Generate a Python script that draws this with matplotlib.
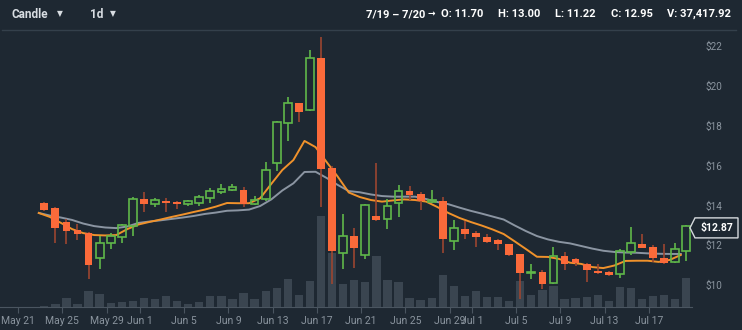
import numpy as np
import pandas as pd
import matplotlib
matplotlib.use('Agg')
import matplotlib.pyplot as plt
import matplotlib.dates as mdates
import matplotlib.transforms as mtransforms
from matplotlib.patches import Rectangle, Polygon

plt.rcParams['font.family'] = ['Roboto', 'DejaVu Sans']

# daily candles, 2018-05-23 .. 2018-07-20
dates = pd.date_range('2018-05-23', periods=59, freq='D')

opens = [14.10, 13.85, 13.17, 12.75, 12.60, 11.34, 12.10, 12.43, 12.95, 14.34,
         14.07, 14.24, 14.19, 14.09, 14.14, 14.36, 14.67, 14.79, 14.79, 14.07,
         14.32, 16.13, 18.14, 19.15, 18.81, 21.41, 15.88, 11.61, 12.46, 11.51,
         13.45, 13.30, 14.12, 14.74, 14.57, 14.16, 14.22, 12.23, 12.81, 12.63,
         12.40, 12.28, 12.05, 11.54, 10.62, 10.64, 10.09, 11.46, 11.29, 11.04,
         10.70, 10.64, 10.54, 11.64, 12.06, 11.89, 11.34, 11.14, 11.70]
highs = [14.15, 13.90, 13.30, 13.07, 12.65, 12.46, 12.60, 13.05, 14.42, 14.66,
         14.39, 14.36, 14.24, 14.27, 14.54, 14.89, 15.07, 15.06, 14.94, 14.47,
         16.17, 18.26, 19.46, 19.15, 21.81, 22.48, 15.98, 13.55, 12.88, 14.06,
         16.15, 14.30, 15.04, 14.96, 14.69, 14.77, 14.41, 13.27, 13.22, 12.71,
         12.58, 12.33, 12.08, 11.58, 11.04, 10.77, 11.89, 11.64, 11.37, 11.10,
         11.04, 10.68, 11.82, 12.90, 12.55, 11.99, 12.05, 12.10, 13.00]
lows = [13.70, 12.10, 12.05, 12.26, 10.30, 10.79, 11.80, 12.10, 12.48, 13.67,
        13.93, 13.65, 13.80, 13.97, 13.98, 14.14, 14.56, 14.74, 13.93, 14.00,
        14.20, 15.71, 17.24, 18.18, 18.75, 13.93, 10.05, 10.79, 10.87, 11.29,
        13.22, 12.81, 13.40, 14.27, 13.77, 14.10, 11.62, 11.76, 12.31, 11.89,
        12.10, 11.74, 11.48, 9.31, 10.29, 9.78, 10.05, 10.77, 10.97, 10.17,
        10.55, 10.47, 10.37, 11.52, 11.85, 11.16, 11.05, 11.10, 11.22]
closes = [13.75, 12.88, 12.71, 12.56, 11.00, 12.10, 12.46, 13.00, 14.34, 14.07,
          14.26, 14.12, 14.09, 14.22, 14.42, 14.72, 14.82, 14.91, 14.07, 14.26,
          15.79, 18.19, 19.13, 18.71, 21.41, 15.84, 11.71, 12.46, 11.88, 14.04,
          13.27, 13.97, 14.74, 14.52, 14.20, 14.27, 12.30, 12.85, 12.58, 12.41,
          12.16, 12.08, 11.52, 10.62, 10.66, 10.07, 11.47, 11.06, 11.09, 10.75,
          10.59, 10.50, 11.69, 12.10, 11.88, 11.37, 11.09, 11.82, 12.95]
volumes = [1500, 4300, 11200, 4300, 20600, 16400, 5500, 6500, 7700, 12000,
           9900, 14200, 7700, 4300, 6800, 14200, 14200, 9900, 18100, 9700,
           20600, 24900, 35700, 15100, 33500, 117400, 70000, 29300, 34400, 32300,
           65800, 34400, 32300, 12000, 9000, 12000, 41300, 26700, 14200, 20600,
           13300, 13300, 7700, 33500, 15500, 21900, 27100, 10700, 11600, 12900,
           15500, 7700, 25800, 24900, 9900, 14200, 15900, 9900, 37417.92]

ma_fast = [13.62, 13.42, 13.12, 12.81, 12.61, 12.51, 12.49, 12.51, 12.81, 13.04,
           13.17, 13.29, 13.42, 13.54, 13.67, 13.79, 13.94, 14.12, 14.11, 14.11,
           14.36, 15.08, 15.78, 16.28, 17.24, 16.93, 16.18, 15.45, 14.65, 14.42,
           14.27, 14.19, 14.25, 14.30, 14.27, 14.19, 13.92, 13.62, 13.37, 13.17,
           12.99, 12.79, 12.56, 12.19, 11.81, 11.42, 11.41, 11.31, 11.12, 11.06,
           10.90, 10.85, 10.98, 11.21, 11.22, 11.22, 11.16, 11.26, 11.51]
ma_slow = [13.62, 13.49, 13.39, 13.27, 13.09, 12.96, 12.89, 12.86, 12.94, 13.12,
           13.19, 13.25, 13.32, 13.39, 13.47, 13.57, 13.64, 13.73, 13.75, 13.79,
           13.97, 14.30, 14.75, 15.11, 15.68, 15.69, 15.38, 15.03, 14.72, 14.66,
           14.55, 14.47, 14.44, 14.44, 14.44, 14.32, 14.17, 14.06, 13.89, 13.73,
           13.59, 13.44, 13.29, 12.99, 12.71, 12.46, 12.29, 12.17, 12.09, 11.96,
           11.83, 11.72, 11.66, 11.63, 11.62, 11.59, 11.57, 11.56, 11.56]

last_price = 12.87
price_ticks = [10, 12, 14, 16, 18, 20, 22]
tick_dates = ['2018-05-21', '2018-05-25', '2018-05-29', '2018-06-01', '2018-06-05',
              '2018-06-09', '2018-06-13', '2018-06-17', '2018-06-21', '2018-06-25',
              '2018-06-29', '2018-07-01', '2018-07-05', '2018-07-09', '2018-07-13',
              '2018-07-17']

BG = '#1e2832'
UP = '#5fb84a'
DOWN = '#fb6a3a'
DOWN_WICK = '#9c4530'
TXT = '#8a949e'

W, H = 742, 330
TOP = 30      # header separator, px from top
BOT = 307     # x axis line, px from top
fig = plt.figure(figsize=(W / 100, H / 100), dpi=100, facecolor=BG)

rect = [0, (H - BOT) / H, 692 / W, (BOT - TOP) / H]
ax_vol = fig.add_axes(rect, facecolor=BG)
ax = fig.add_axes(rect, facecolor='none', sharex=ax_vol)

t = mdates.date2num(dates)
xc = t + 0.375          # candle centres
xl = t - 0.12           # moving average points

# volume
ax_vol.bar(xc, volumes, width=0.75, color='#3a4550', zorder=1)
ax_vol.set_ylim(0, 1290 * (BOT - TOP))
ax_vol.set_yticks([])

# moving averages
ax.plot(xl, ma_slow, color='#8b95a2', lw=1.4, zorder=2)
ax.plot(xl, ma_fast, color='#f0922b', lw=1.4, zorder=3)

# candles
bw = 0.7
for x, o, h, l, c in zip(xc, opens, highs, lows, closes):
    lo, hi = min(o, c), max(o, c)
    if c >= o:
        ax.plot([x, x], [l, lo], color=UP, lw=1.2, zorder=4, solid_capstyle='butt')
        ax.plot([x, x], [hi, h], color=UP, lw=1.2, zorder=4, solid_capstyle='butt')
        ax.add_patch(Rectangle((x - bw / 2, lo), bw, max(hi - lo, 0.02),
                               facecolor='none', edgecolor=UP, lw=1.2, zorder=5))
    else:
        ax.plot([x, x], [l, h], color=DOWN_WICK, lw=1.2, zorder=4, solid_capstyle='butt')
        ax.add_patch(Rectangle((x - bw / 2, lo), bw, max(hi - lo, 0.02),
                               facecolor=DOWN, edgecolor='none', zorder=5))

# $10 sits at y=285 px, 19.9 px per dollar
d0 = mdates.date2num(pd.Timestamp('2018-05-21'))
ax.set_xlim(d0 - 1.626, d0 + 60.89)
ax.set_ylim(10 - (BOT - 285) / 19.9, 10 + (285 - TOP) / 19.9)

ticks = mdates.date2num(pd.to_datetime(tick_dates))
ax.set_xticks(ticks)
ax.set_xticklabels([pd.Timestamp(d).strftime('%b ') + str(pd.Timestamp(d).day) for d in tick_dates])
ax.tick_params(axis='x', colors='#4a5560', length=4, width=0.8, pad=2.5,
               labelsize=7.5, labelcolor=TXT)
plt.setp(ax_vol.get_xticklabels(), visible=False)
ax_vol.tick_params(axis='x', length=0)

ax.yaxis.tick_right()
ax.set_yticks(price_ticks)
ax.set_yticklabels(['$%d' % p for p in price_ticks])
ax.tick_params(axis='y', length=0, pad=9.5, labelsize=7.2, labelcolor=TXT)

for a in (ax, ax_vol):
    for s in a.spines.values():
        s.set_visible(False)
ax.spines['bottom'].set_visible(True)
ax.spines['bottom'].set_color('#4a5560')
ax.spines['bottom'].set_linewidth(0.8)

# last price tag
blend = mtransforms.blended_transform_factory(fig.transFigure, ax.transData)
dy = 10 / 19.9
tag = Polygon([(690 / W, last_price), (695 / W, last_price + dy), (738 / W, last_price + dy),
               (738 / W, last_price - dy), (695 / W, last_price - dy)], closed=True,
              facecolor=BG, edgecolor='#d5d9dd', lw=1.0, transform=blend, clip_on=False)
fig.add_artist(tag)
fig.text(717 / W, last_price, '$%.2f' % last_price, transform=blend, color='white',
         fontsize=7.5, fontweight='bold', ha='center', va='center')

# header
fig.add_artist(plt.Line2D([2 / W, 736 / W], [1 - TOP / H, 1 - TOP / H],
                          color='#34404b', lw=1.0, transform=fig.transFigure))
hy = 1 - 14 / H
fig.text(12 / W, hy, 'Candle', color='#d8dde2', fontsize=8.5, fontweight='bold', va='center')
fig.text(57 / W, hy, '\u25bc', color='#d8dde2', fontsize=5.5, va='center', family='DejaVu Sans')
fig.text(90 / W, hy, '1d', color='#d8dde2', fontsize=8.5, fontweight='bold', va='center')
fig.text(110 / W, hy, '\u25bc', color='#d8dde2', fontsize=5.5, va='center', family='DejaVu Sans')

hdr = [(366, '7/19 \u2013 7/20'), (427, '\u2192'),
       (441, 'O: %.2f' % opens[-1]), (498, 'H: %.2f' % highs[-1]),
       (555, 'L: %.2f' % lows[-1]), (611, 'C: %.2f' % closes[-1]),
       (667, 'V: {:,.2f}'.format(volumes[-1]))]
for x, s in hdr:
    fs = 6.5 if s == '\u2192' else 8
    fig.text(x / W, hy, s, color='white', fontsize=fs, fontweight='bold', va='center')

fig.savefig('out.png', dpi=100, facecolor=BG)
